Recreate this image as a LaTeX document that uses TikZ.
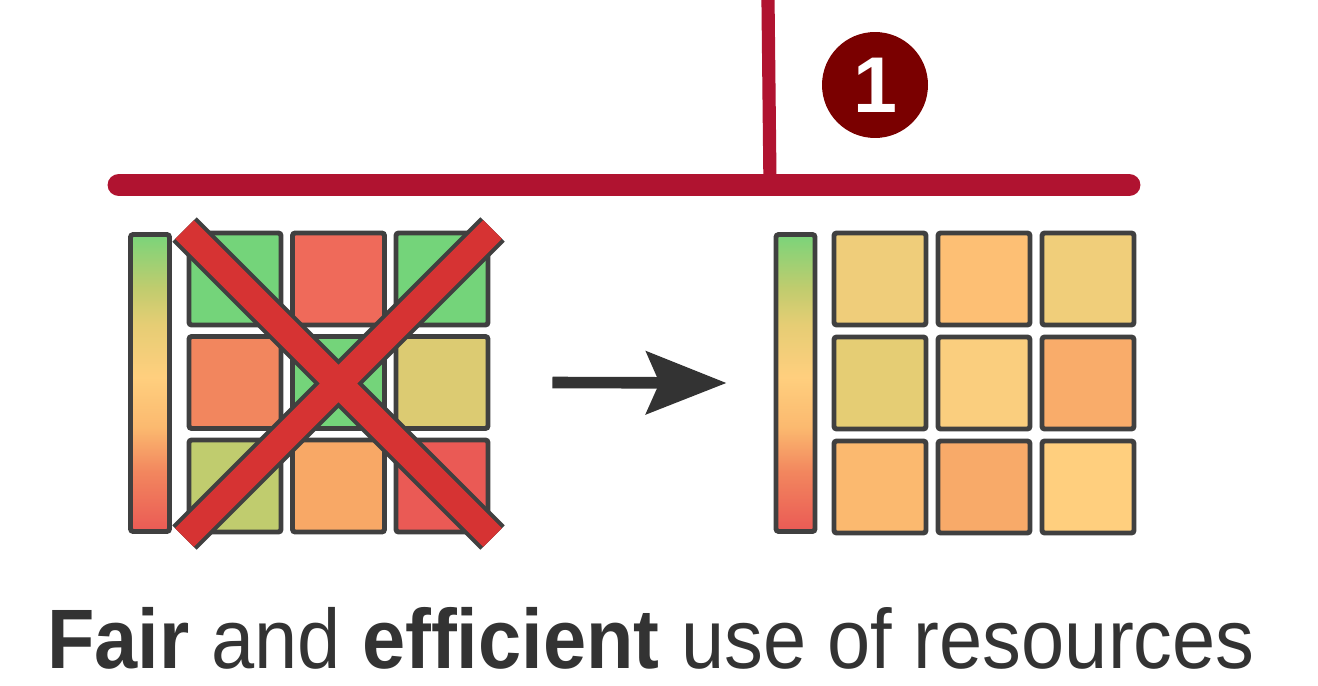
\documentclass[tikz,border=0pt]{standalone}
\usepackage{fontspec}
\usetikzlibrary{arrows.meta}

\newfontfamily\capfont[FakeStretch=0.92]{Liberation Sans}
\newfontfamily\badgefont{Liberation Sans}

% colours
\definecolor{railred}{HTML}{B01330}
\definecolor{badgered}{HTML}{7A0000}
\definecolor{gridgray}{HTML}{404040}
\definecolor{textgray}{HTML}{333333}
\definecolor{crossred}{HTML}{D63333}
\definecolor{hgreen}{HTML}{74D47A}
\definecolor{hred}{HTML}{EF6A5A}
\definecolor{hcoral}{HTML}{F2865E}
\definecolor{hsand}{HTML}{DCCB72}
\definecolor{holive}{HTML}{C0CC6E}
\definecolor{hpeach}{HTML}{F8A866}
\definecolor{hdeep}{HTML}{EA5A55}
\definecolor{fa}{HTML}{EFCD7A}
\definecolor{fb}{HTML}{FDBF74}
\definecolor{fc}{HTML}{F0CE7A}
\definecolor{fd}{HTML}{E5CD74}
\definecolor{fe}{HTML}{FACE7E}
\definecolor{ff}{HTML}{F9AC6A}
\definecolor{fg}{HTML}{FBB96F}
\definecolor{fh}{HTML}{F8AA69}
\definecolor{fi}{HTML}{FFCF7E}
\definecolor{sgreen}{HTML}{7AD47A}

% heat scale: red at the bottom, green at the top (path spans 25bp--75bp)
\pgfdeclareverticalshading{heatscale}{100bp}{%
  color(0bp)=(hdeep); color(25bp)=(hdeep); color(35bp)=(hcoral);
  color(42.5bp)=(fg); color(51bp)=(fi); color(60bp)=(fd);
  color(66bp)=(holive); color(75bp)=(sgreen); color(100bp)=(sgreen)}

\begin{document}
\begin{tikzpicture}[x=0.02cm, y=-0.02cm,
    cell/.style={draw=gridgray, line width=2.8pt, rounded corners=1.5pt,
                 minimum size=1.84cm, inner sep=0pt, outer sep=0pt}, % grid squares
    scalebar/.style={draw=gridgray, line width=2.8pt, rounded corners=1.5pt,
                 shading=heatscale, minimum width=0.78cm, minimum height=5.94cm,
                 inner sep=0pt, outer sep=0pt}, % colour scale
    rail/.style={railred, line width=13pt, line cap=round},
    badge/.style={circle, fill=badgered, minimum size=2.12cm, inner sep=0pt,
                  text=white, font=\badgefont\bfseries\fontsize{45}{45}\selectfont},
    bigarrow/.style={textgray, line width=6.6pt,
                     -{Stealth[length=1.6cm, width=1.24cm, inset=0.26cm]}}
]
    \useasboundingbox (0,0) rectangle (1318,686);
    \fill[white] (0,0) rectangle (1318,686);

    % top connector
    \coordinate (stemtop) at (768,0);
    \coordinate (joint) at (770,185);
    \coordinate (railL) at (119,185);
    \coordinate (railR) at (1129,185);
    \draw[railred, line width=7.5pt] (stemtop) -- (joint);
    \draw[rail] (railL) -- (railR);

    % step number
    \node[badge] (one) at (875,85) {1};

    % left: unfair allocation
    \node[scalebar] (lbar) at (150,383) {};
    \foreach \r/\c/\clr in {1/1/hgreen, 1/2/hred, 1/3/hgreen,
                            2/1/hcoral, 2/2/hgreen, 2/3/hsand,
                            3/1/holive, 3/2/hpeach, 3/3/hdeep}
        \node[cell, fill=\clr] (lc-\r-\c) at ({235+103.5*(\c-1)},{279+103.5*(\r-1)}) {};

    % crossed out
    \coordinate (xa) at (184.5,229.5);
    \coordinate (xb) at (492.5,537.5);
    \coordinate (xc) at (492.5,229.5);
    \coordinate (xd) at (184.5,537.5);
    \draw[gridgray, line width=19.6pt] (xa) -- (xb) (xc) -- (xd);
    \draw[crossred, line width=15pt] (xa) -- (xb) (xc) -- (xd);

    % right: fair allocation
    \node[scalebar] (rbar) at (795.5,383) {};
    \foreach \r/\c/\clr in {1/1/fa, 1/2/fb, 1/3/fc,
                            2/1/fd, 2/2/fe, 2/3/ff,
                            3/1/fg, 3/2/fh, 3/3/fi}
        \node[cell, fill=\clr] (rc-\r-\c) at ({880+104*(\c-1)},{279+104*(\r-1)}) {};

    \draw[bigarrow] ([xshift=1.29cm]lc-2-3.east) -- ([xshift=-0.99cm]rbar.west);

    % caption
    \node[anchor=base, text=textgray, inner sep=0pt,
          font=\capfont\fontsize{48}{58}\selectfont] (caption) at (651,668)
        {\textbf{Fair} and \textbf{efficient} use of resources};
\end{tikzpicture}
\end{document}
